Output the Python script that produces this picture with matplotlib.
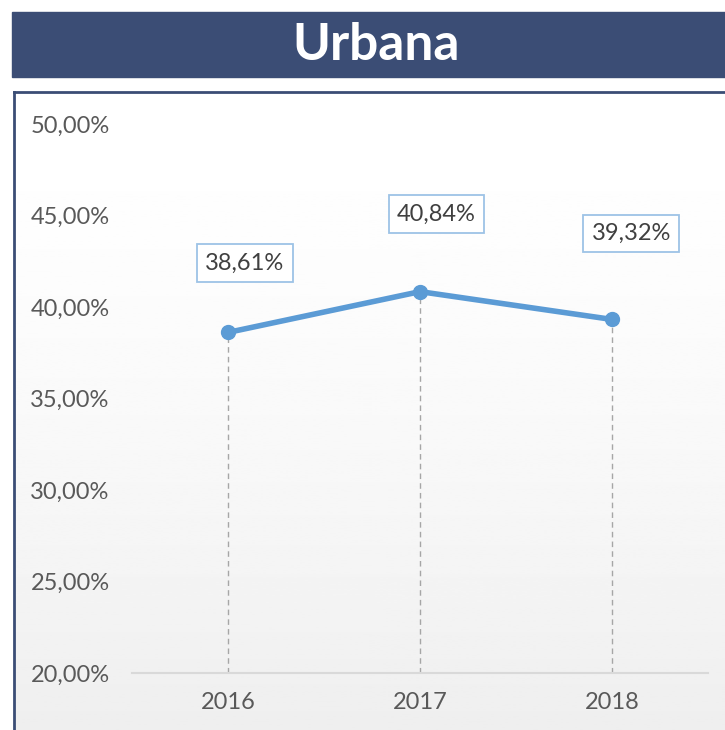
import numpy as np
import matplotlib.pyplot as plt
from matplotlib.patches import Rectangle
from matplotlib.lines import Line2D
from matplotlib.ticker import FuncFormatter

years = ['2016', '2017', '2018']
values = [38.61, 40.84, 39.32]
yticks = [20, 25, 30, 35, 40, 45, 50]
title = 'Urbana'

W, H = 725, 730
navy = '#3b4d75'
blue = '#5b9bd5'
plt.rcParams['font.family'] = ['Lato', 'DejaVu Sans']

fig = plt.figure(figsize=(W / 100, H / 100), dpi=100)

# background panel with a soft gradient
bg = fig.add_axes([0, 0, 1, 1], zorder=0)
bg.set_xlim(0, W)
bg.set_ylim(H, 0)
bg.axis('off')
grad = np.linspace(0, 1, 256).reshape(-1, 1) ** 1.5
bg.imshow(1 - 0.065 * grad, cmap='gray', vmin=0, vmax=1, aspect='auto',
          extent=[14, W, H, 93], zorder=0)
bg.add_patch(Rectangle((12, 12), W - 12, 65, color=navy, zorder=1))
bg.text(376, 46, title, color='white', fontsize=37, fontweight='bold',
        ha='center', va='center', zorder=2)
bg.add_line(Line2D([14, 14], [92, H], color=navy, lw=2, zorder=2))
bg.add_line(Line2D([14, W], [92, 92], color=navy, lw=2, zorder=2))

# chart
ax = fig.add_axes([132 / W, (H - 673) / H, (708 - 132) / W, (673 - 124) / H], zorder=1)
ax.patch.set_alpha(0)
x = np.arange(len(years))
ax.set_xlim(-0.5, len(years) - 0.5)
ax.set_ylim(20, 50)
ax.set_yticks(yticks)
ax.yaxis.set_major_formatter(FuncFormatter(lambda v, p: f'{v:.2f}%'.replace('.', ',')))
ax.set_xticks(x)
ax.set_xticklabels(years)
ax.tick_params(length=0, labelsize=17, colors='#595959')
ax.tick_params(axis='y', pad=16)
ax.tick_params(axis='x', pad=14)
for s in ['top', 'right', 'left']:
    ax.spines[s].set_visible(False)
ax.spines['bottom'].set_color('#d9d9d9')
ax.spines['bottom'].set_linewidth(1.5)

ax.vlines(x, 20, values, colors='#a6a6a6', linestyles=(0, (4, 3)), lw=1)
ax.plot(x, values, color=blue, lw=4, marker='o', ms=10, solid_capstyle='round', zorder=3)

offsets = [(12, 50), (12, 56), (14, 62)]
for xi, v, off in zip(x, values, offsets):
    ax.annotate(f'{v:.2f}%'.replace('.', ','), (xi, v), xytext=off,
                textcoords='offset points', ha='center', va='center',
                fontsize=17, color='#404040',
                bbox=dict(boxstyle='square,pad=0.35', fc='white', ec='#9dc3e6', lw=1.3))

fig.savefig('out.png', dpi=100)
